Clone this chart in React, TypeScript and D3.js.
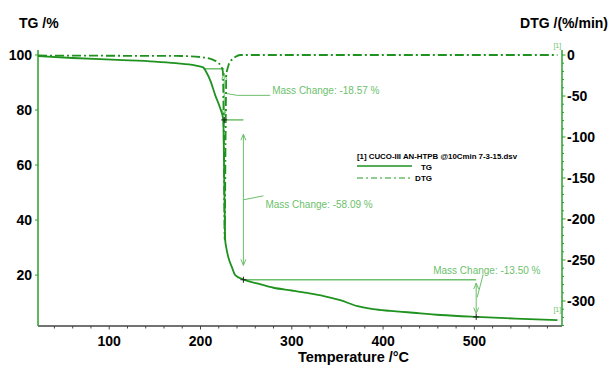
import * as d3 from "d3";

// TG curve (temperature °C, mass %)
const tgTemp = [22, 60, 109, 150, 173, 194, 203, 206, 211, 216, 221.5, 225, 225.8, 226.4, 227, 228.5, 230.5, 234.5, 238, 247, 262, 280, 300, 317, 335, 353, 372, 389, 408, 427, 463, 502, 545, 591];
const tgMass = [99.6, 98.9, 98.2, 97.6, 97.0, 96.2, 95.5, 94.0, 90.5, 85.5, 80.7, 76.4, 60, 45, 33, 29.5, 26.5, 22.8, 20.0, 18.4, 17.0, 15.4, 14.4, 13.5, 12.4, 10.9, 8.7, 7.6, 7.0, 6.5, 5.5, 4.8, 4.2, 3.6];

// DTG curve (temperature °C, %/min)
const dtgTemp = [22, 100, 178, 200, 214, 221.6, 224.5, 225.6, 226.5, 227.4, 228.3, 229.5, 230.5, 232.6, 235, 238, 243.5, 300, 400, 500, 591];
const dtgRate = [-0.6, -0.9, -1.2, -2.5, -6, -12, -20, -110, -225, -110, -24, -17, -13, -8, -5, -2.4, 0, 0, 0, 0, 0];

// Mass change steps
const stepStart = 203;
const stepTemps = [226, 247, 502];
const stepFrom = [94.97, 76.4, 18.31];
const stepTo = [76.4, 18.31, 4.81];
const stepLabels = ["Mass Change: -18.57 %", "Mass Change: -58.09 %", "Mass Change: -13.50 %"];

// ticks
const xTicks = [100, 200, 300, 400, 500];
const yTicks = [20, 40, 60, 80, 100];
const y2Ticks = [0, -50, -100, -150, -200, -250, -300];

const W = 610;
const H = 365;
const margin = { left: 38, right: 48, top: 50, bottom: 39 };

const curveGreen = "#1f921f";
const axisGreen = "#2aa02a";
const noteGreen = "#6cbf6c";
const font = "'Liberation Sans', Arial, sans-serif";

function App() {
  const x = d3.scaleLinear().domain([22, 596]).range([margin.left, W - margin.right]);
  const y = d3.scaleLinear().domain([1.5, 101.8]).range([H - margin.bottom, margin.top]);
  const y2 = d3.scaleLinear().domain([-330.5, 6.1]).range([H - margin.bottom, margin.top]);

  const tgLine = d3.line<number>()
    .x((_, i) => x(tgTemp[i]))
    .y((d) => y(d))
    .curve(d3.curveMonotoneX);
  const dtgLine = d3.line<number>()
    .x((_, i) => x(dtgTemp[i]))
    .y((d) => y2(d))
    .curve(d3.curveMonotoneX);

  const bottom = H - margin.bottom;
  const left = margin.left;
  const right = W - margin.right;
  const minorX = d3.range(40, 596, 20).filter((t) => t % 100 !== 0);
  const minorY2 = d3.range(0, -331, -10).filter((t) => t % 50 !== 0);

  // label placement relative to each arrow (layout only)
  const leaders = [
    (ax: number, my: number) => ({ pts: [[ax + 1, my - 1], [ax + 13, my + 1], [ax + 46, my + 1]], tx: ax + 48, ty: my - 0.5, anchor: "start" }),
    (ax: number, my: number) => ({ pts: [[ax, my], [ax + 20, my - 4]], tx: ax + 22, ty: my + 8, anchor: "start" }),
    (ax: number, my: number) => ({ pts: [[ax + 1, my - 1], [ax + 7, my - 24]], tx: ax - 43, ty: my - 24.5, anchor: "start" }),
  ];

  return (
    <svg width={W} height={H} style={{ position: "absolute", left: 0, top: 0, background: "#fff" }} fontFamily={font}>
      {/* axis titles */}
      <text x={19} y={28} fontSize={14} fontWeight="bold">TG /%</text>
      <text x={608} y={28} fontSize={14} fontWeight="bold" textAnchor="end">DTG /(%/min)</text>
      <text x={298} y={362} fontSize={14.5} fontWeight="bold">Temperature /°C</text>

      {/* bottom axis */}
      <line x1={left} x2={right} y1={bottom} y2={bottom} stroke="#444" strokeWidth={1.5} />
      {minorX.map((t) => (
        <line key={"mx" + t} x1={x(t)} x2={x(t)} y1={bottom} y2={bottom + 2.5} stroke="#444" />
      ))}
      {xTicks.map((t) => (
        <g key={"x" + t}>
          <line x1={x(t)} x2={x(t)} y1={bottom} y2={bottom + 3.5} stroke="#444" />
          <text x={x(t)} y={346} fontSize={14} fontWeight="bold" textAnchor="middle">{t}</text>
        </g>
      ))}

      {/* left axis */}
      <line x1={left} x2={left} y1={margin.top} y2={bottom} stroke={axisGreen} strokeWidth={1.5} />
      {yTicks.map((t) => (
        <g key={"y" + t}>
          <line x1={left - 3} x2={left} y1={y(t)} y2={y(t)} stroke={axisGreen} />
          <text x={32} y={y(t) + 5} fontSize={14} fontWeight="bold" textAnchor="end">{t}</text>
        </g>
      ))}

      {/* right axis */}
      <line x1={right} x2={right} y1={margin.top} y2={bottom} stroke={axisGreen} strokeWidth={1.5} />
      {minorY2.map((t) => (
        <line key={"my" + t} x1={right} x2={right + 2} y1={y2(t)} y2={y2(t)} stroke={axisGreen} />
      ))}
      {y2Ticks.map((t) => (
        <g key={"y2" + t}>
          <line x1={right} x2={right + 3.5} y1={y2(t)} y2={y2(t)} stroke={axisGreen} />
          <text x={567} y={y2(t) + 5} fontSize={14} fontWeight="bold">{t}</text>
        </g>
      ))}

      {/* mass change annotations */}
      {stepTemps.map((t, i) => {
        const ax = x(t);
        const y0 = y(stepFrom[i]);
        const y1 = y(stepTo[i]);
        const gap = (y1 - y0) * 0.09;
        const startX = i === 0 ? x(stepStart) : x(stepTemps[i - 1]);
        const lead = leaders[i](ax, (y0 + y1) / 2);
        return (
          <g key={"s" + i} stroke={noteGreen} fill="none" strokeWidth={1}>
            <line x1={startX} x2={ax} y1={y0} y2={y0} strokeWidth={1.5} />
            <line x1={ax} x2={ax} y1={y0 + gap} y2={y1 - gap} />
            <path d={`M${ax - 2.5},${y0 + gap + 6}L${ax},${y0 + gap}L${ax + 2.5},${y0 + gap + 6}`} />
            <path d={`M${ax - 2.5},${y1 - gap - 6}L${ax},${y1 - gap}L${ax + 2.5},${y1 - gap - 6}`} />
            <polyline points={lead.pts.map((p) => p.join(",")).join(" ")} />
            <text x={lead.tx} y={lead.ty} fontSize={10} fill={noteGreen} stroke="none" textAnchor={lead.anchor as any}>{stepLabels[i]}</text>
          </g>
        );
      })}

      {/* curves */}
      <path d={dtgLine(dtgRate) ?? ""} fill="none" stroke={curveGreen} strokeWidth={1.8} strokeDasharray="9,3,2,3" />
      <path d={tgLine(tgMass) ?? ""} fill="none" stroke={curveGreen} strokeWidth={1.8} />

      {/* step markers */}
      {stepTemps.map((t, i) => (
        <path key={"p" + i} d={`M${x(t) - 3},${y(stepTo[i])}h6M${x(t)},${y(stepTo[i]) - 3}v6`} stroke="#222" strokeWidth={1} />
      ))}

      {/* curve ids */}
      <text x={x(591) - 4} y={y2(dtgRate[dtgRate.length - 1]) - 7} fontSize={7} fill={noteGreen}>[1]</text>
      <text x={x(591) - 4} y={y(tgMass[tgMass.length - 1]) - 8} fontSize={7} fill={noteGreen}>[1]</text>

      {/* legend */}
      <text x={357} y={159} fontSize={8} fontWeight="bold" textLength={160} lengthAdjust="spacingAndGlyphs">[1] CUCO-III AN-HTPB @10Cmin 7-3-15.dsv</text>
      <line x1={357} x2={412} y1={166} y2={166} stroke={curveGreen} strokeWidth={1.3} />
      <text x={432} y={170} fontSize={8} fontWeight="bold" textAnchor="end">TG</text>
      <line x1={357} x2={412} y1={178} y2={178} stroke={noteGreen} strokeWidth={1.3} strokeDasharray="6,3,2,3" />
      <text x={432} y={181} fontSize={8} fontWeight="bold" textAnchor="end">DTG</text>
    </svg>
  );
}

export default App;
